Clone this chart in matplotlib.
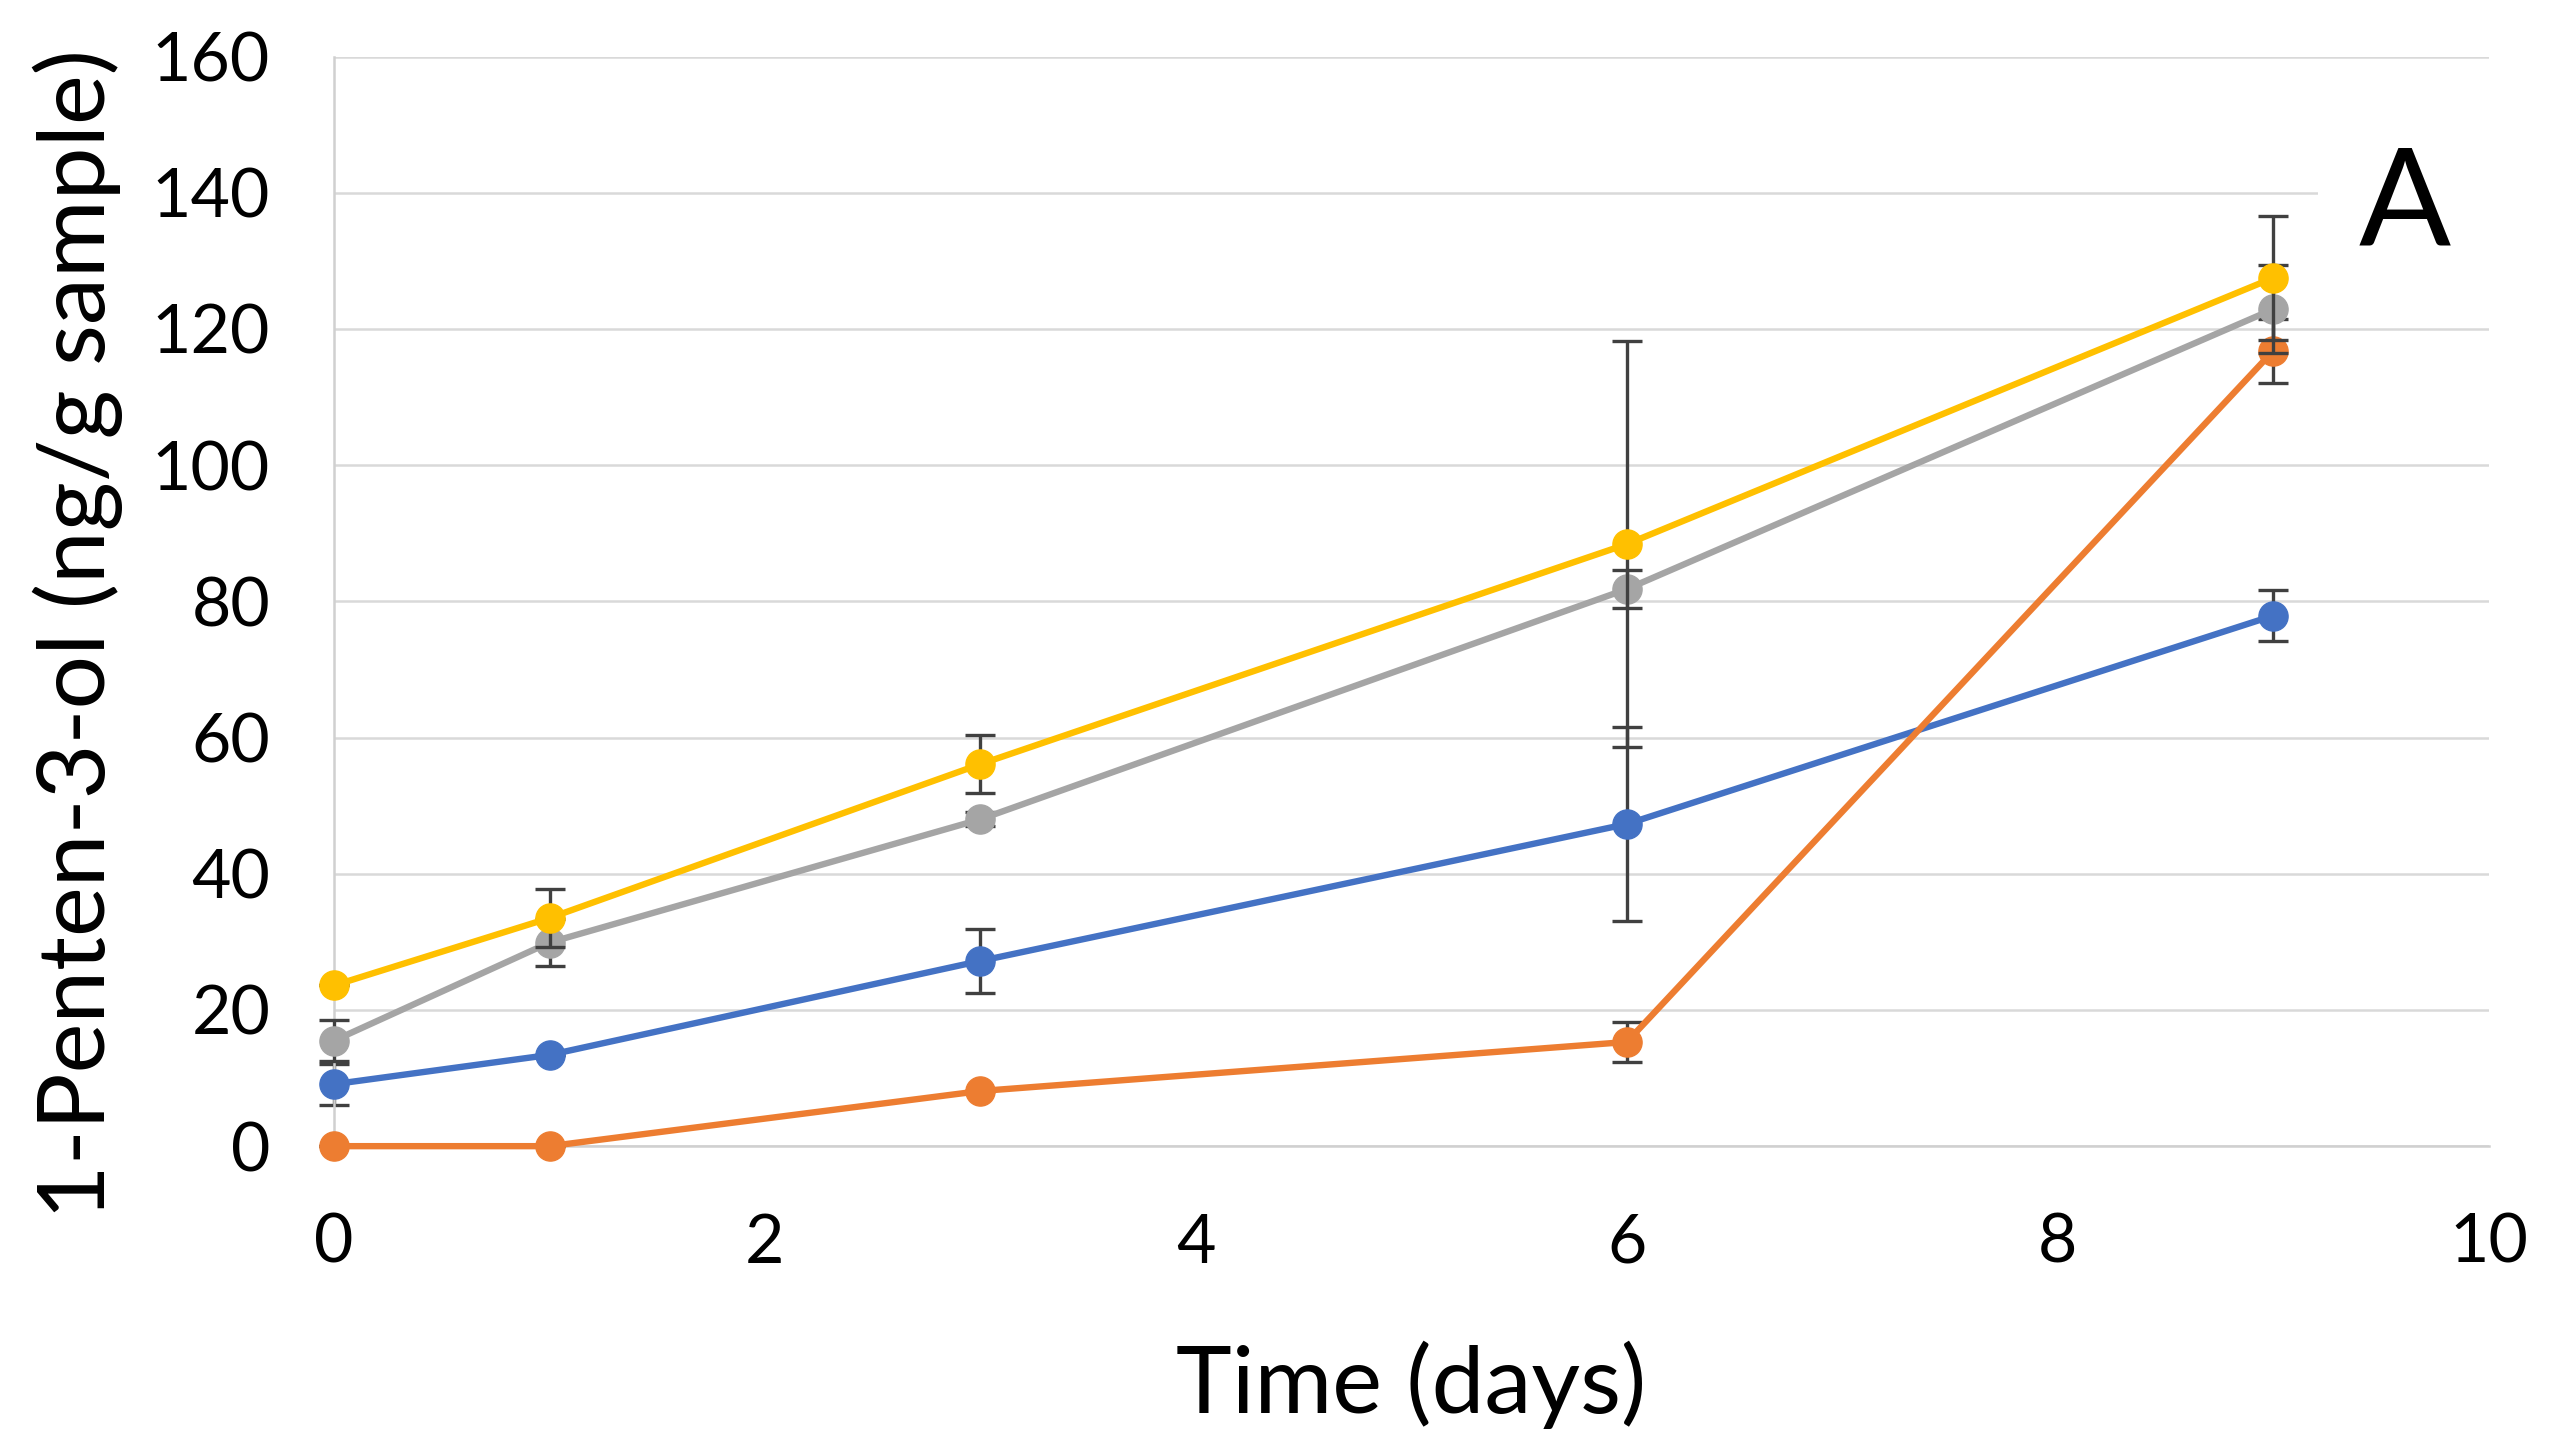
import matplotlib
matplotlib.use('Agg')
import matplotlib.pyplot as plt

plt.rcParams['font.family'] = ['Lato', 'DejaVu Sans']

# Data
days = [0, 1, 3, 6, 9]

blue = [9.1, 13.4, 27.2, 47.3, 77.9]
blue_err = [3.0, 0.0, 4.7, 14.2, 3.7]

orange = [0.0, 0.0, 8.1, 15.3, 116.8]
orange_err = [0.0, 0.0, 0.0, 3.0, 4.7]

grey = [15.5, 29.9, 48.0, 81.8, 122.9]
grey_err = [3.0, 3.5, 1.0, 2.8, 6.5]

yellow = [23.6, 33.5, 56.1, 88.4, 127.5]
yellow_err = [0.0, 4.3, 4.3, 29.8, 9.1]

series = [
    (blue, blue_err, '#4472C4'),
    (orange, orange_err, '#ED7D31'),
    (grey, grey_err, '#A5A5A5'),
    (yellow, yellow_err, '#FFC000'),
]

fig = plt.figure(figsize=(25.5, 14.49), dpi=100)
ax = fig.add_axes([0.131, 0.209, 0.845, 0.752])

for i, (vals, errs, col) in enumerate(series):
    ax.errorbar(days, vals, yerr=errs, fmt='none', ecolor='#404040',
                elinewidth=2.4, capsize=11, capthick=2.4, zorder=2 + i * 2, clip_on=False)
    ax.plot(days, vals, color=col, lw=4.6, marker='o', markersize=21,
            zorder=3 + i * 2, clip_on=False)

ax.set_xlim(0, 10)
ax.set_ylim(0, 160)
ax.set_xticks([0, 2, 4, 6, 8, 10])
ax.set_yticks(range(0, 161, 20))
ax.yaxis.grid(True, color='#D9D9D9', lw=1.8)
ax.set_axisbelow(True)

for s in ['top', 'right']:
    ax.spines[s].set_visible(False)
ax.spines['left'].set_color('#D0D0D0')
ax.spines['bottom'].set_color('#D0D0D0')
ax.spines['left'].set_linewidth(1.8)
ax.spines['bottom'].set_linewidth(1.8)
ax.tick_params(length=0, labelsize=49)
ax.tick_params(axis='x', pad=48)
ax.tick_params(axis='y', pad=46)

ax.set_xlabel('Time (days)', fontsize=68)
ax.xaxis.label.set_va('baseline')
ax.xaxis.set_label_coords(0.5, -0.245)
ax.set_ylabel('1-Penten-3-ol (ng/g sample)', fontsize=68)
ax.yaxis.label.set_va('center')
ax.yaxis.set_label_coords(-0.119, 0.47)

fig.text(0.943, 0.857, 'A', fontsize=98, ha='center', va='center',
         bbox=dict(boxstyle='square,pad=0.3', facecolor='white', edgecolor='none'))

fig.savefig('out.png', dpi=100, facecolor='white')
